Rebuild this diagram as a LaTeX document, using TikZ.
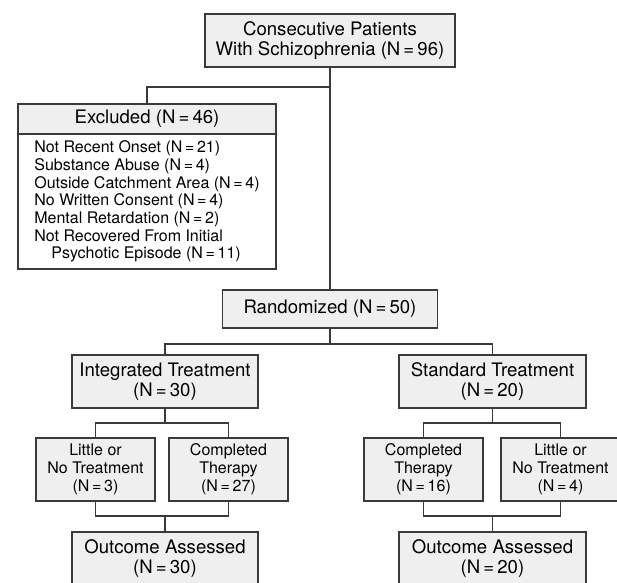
\documentclass[tikz,border=0pt]{standalone}
\usepackage{fontspec}
\setmainfont{TeX Gyre Heros}
\definecolor{boxgray}{HTML}{EFEFEF}
\definecolor{linegray}{HTML}{3A3A3A}
\newcommand{\Neq}[1]{(N\,=\,#1)}
\begin{document}
\begin{tikzpicture}[x=1pt,y=-1pt,line width=1.3pt,
	bigbox/.style={draw=linegray,fill=boxgray,align=center,inner sep=0pt,font=\fontsize{18.6}{20.5}\selectfont},
	smallbox/.style={draw=linegray,fill=boxgray,align=center,inner sep=0pt,minimum width=119pt,minimum height=63pt,font=\fontsize{16}{18}\selectfont},
	listbox/.style={draw=linegray,fill=white,align=left,inner xsep=15pt,inner ysep=0pt,minimum width=258pt,minimum height=135pt,font=\fontsize{16}{17.7}\selectfont}]
	\useasboundingbox (0,0) rectangle (617,582);
	\clip (0,0) rectangle (617,582);
		\node[bigbox,minimum width=250pt,minimum height=53pt] (patients) at (330,40.5) {Consecutive Patients\\With Schizophrenia \Neq{96}};
		\node[listbox] (exlist) at (147,201.5) {Not Recent Onset \Neq{21}\\Substance Abuse \Neq{4}\\Outside Catchment Area \Neq{4}\\No Written Consent \Neq{4}\\Mental Retardation \Neq{2}\\Not Recovered From Initial\\\hspace*{17pt}Psychotic Episode \Neq{11}};
		\node[bigbox,minimum width=258pt,minimum height=30pt] (excluded) at (147,119) {Excluded \Neq{46}};
		\node[bigbox,minimum width=215pt,minimum height=38pt] (random) at (330,309) {Randomized \Neq{50}};
		\node[bigbox,minimum width=186pt,minimum height=53pt] (integ) at (165,381.5) {Integrated Treatment\\\Neq{30}};
		\node[bigbox,minimum width=187pt,minimum height=53pt] (stand) at (492.5,381.5) {Standard Treatment\\\Neq{20}};
		\node[smallbox] (ilittle) at (95.5,469.5) {Little or\\No Treatment\\\Neq{3}};
		\node[smallbox] (icompl) at (228.5,469.5) {Completed\\Therapy\\\Neq{27}};
		\node[smallbox] (scompl) at (423.5,469.5) {Completed\\Therapy\\\Neq{16}};
		\node[smallbox] (slittle) at (560.5,469.5) {Little or\\No Treatment\\\Neq{4}};
		\node[bigbox,minimum width=186pt,minimum height=53pt] (ioutcome) at (165,558.5) {Outcome Assessed\\\Neq{30}};
		\node[bigbox,minimum width=187pt,minimum height=53pt] (soutcome) at (492.5,558.5) {Outcome Assessed\\\Neq{20}};
		\coordinate (exsplit) at (330,87);
		\coordinate (rsplit) at (330,344);
		\coordinate (isplit) at (165,423);
		\coordinate (ijoin) at (165,516);
		\coordinate (ssplit) at (492.5,423);
		\coordinate (sjoin) at (492.5,516);
		\draw[linegray] (patients.south) -- (random.north);
		\draw[linegray] (excluded.north) |- (exsplit);
		\draw[linegray] (random.south) -- (rsplit);
		\draw[linegray] (integ.north) |- (rsplit) -| (stand.north);
		\draw[linegray] (integ.south) -- (isplit);
		\draw[linegray] (ilittle.north) |- (isplit) -| (icompl.north);
		\draw[linegray] (ilittle.south) |- (ijoin) -| (icompl.south);
		\draw[linegray] (ijoin) -- (ioutcome.north);
		\draw[linegray] (stand.south) -- (ssplit);
		\draw[linegray] (scompl.north) |- (ssplit) -| (slittle.north);
		\draw[linegray] (scompl.south) |- (sjoin) -| (slittle.south);
		\draw[linegray] (sjoin) -- (soutcome.north);
\end{tikzpicture}
\end{document}
